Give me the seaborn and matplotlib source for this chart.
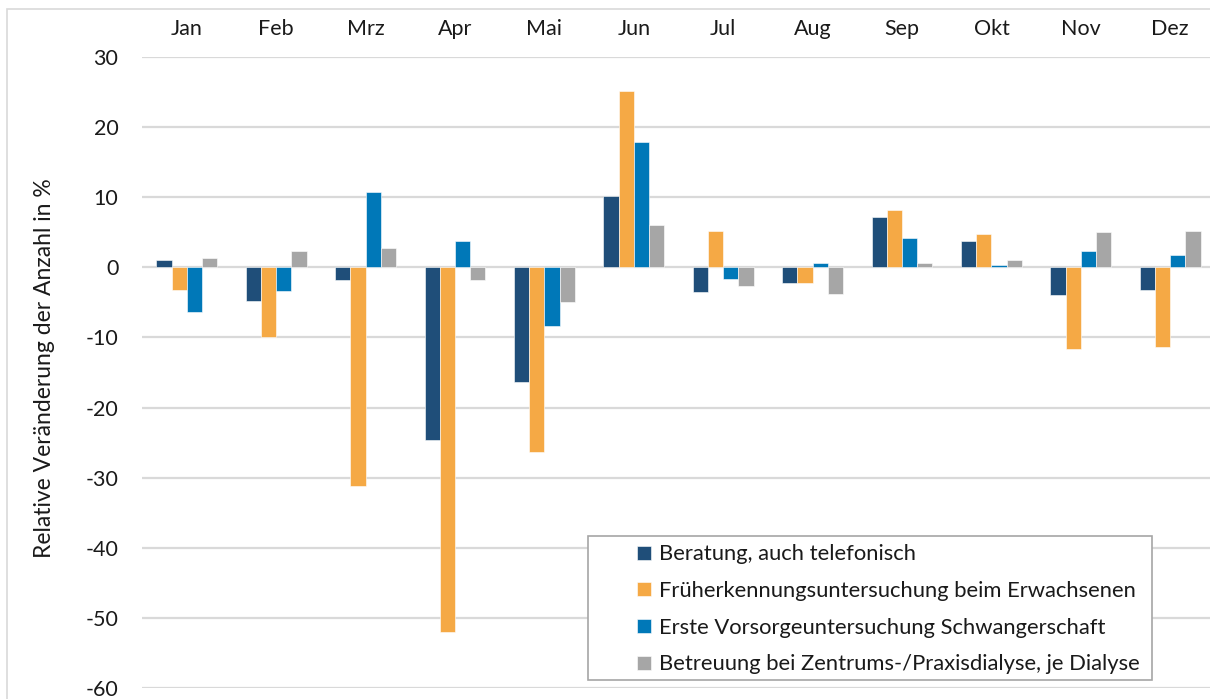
import matplotlib

matplotlib.use("Agg")
import pandas as pd
import seaborn as sns
from matplotlib import pyplot as plt
from matplotlib.patches import Rectangle

months = ["Jan", "Feb", "Mrz", "Apr", "Mai", "Jun", "Jul", "Aug", "Sep", "Okt", "Nov", "Dez"]
series_names = [
    "Beratung, auch telefonisch",
    "Früherkennungsuntersuchung beim Erwachsenen",
    "Erste Vorsorgeuntersuchung Schwangerschaft",
    "Betreuung bei Zentrums-/Praxisdialyse, je Dialyse",
]
beratung = [1.0, -4.8, -1.8, -24.6, -16.4, 10.2, -3.5, -2.2, 7.2, 3.7, -3.9, -3.2]
frueherkennung = [-3.2, -9.9, -31.2, -52.0, -26.3, 25.2, 5.2, -2.2, 8.2, 4.7, -11.7, -11.3]
vorsorge = [-6.4, -3.4, 10.8, 3.8, -8.3, 17.9, -1.7, 0.6, 4.2, 0.4, 2.3, 1.8]
dialyse = [1.4, 2.3, 2.8, -1.8, -4.9, 6.0, -2.7, -3.8, 0.6, 1.1, 5.0, 5.2]
colors = ["#1F4E79", "#F5A945", "#0078B8", "#A6A6A6"]
y_ticks = [30, 20, 10, 0, -10, -20, -30, -40, -50, -60]

frames = []
for name, values in zip(series_names, [beratung, frueherkennung, vorsorge, dialyse]):
    frames.append(pd.DataFrame({"Monat": months, "Wert": values, "Reihe": name}))
df = pd.concat(frames, ignore_index=True)

sns.set_theme(style="white")
plt.rcParams["font.family"] = ["Lato", "DejaVu Sans"]
FS = 15.5
TXT = "#1a1a1a"

W, H = 1210, 699
fig = plt.figure(figsize=(W / 100, H / 100), dpi=100)
# axes area in pixels: left 142, right ~1215, top 57, bottom 688
ax = fig.add_axes([142 / W, 1 - 688 / H, (1215 - 142) / W, (688 - 57) / H])

for y in y_ticks:
    ax.axhline(y, color="#D9D9D9", linewidth=1.6, zorder=0)

sns.barplot(
    data=df,
    x="Monat",
    y="Wert",
    hue="Reihe",
    order=months,
    hue_order=series_names,
    palette=colors,
    width=0.68,
    edgecolor="white",
    linewidth=0.4,
    saturation=1,
    ax=ax,
    zorder=2,
)

ax.set_xlim(-0.5, 11.5)
ax.set_ylim(-60, 30)
ax.set_yticks(y_ticks)
ax.set_yticklabels([str(t) for t in y_ticks], fontsize=FS, color=TXT)
ax.xaxis.tick_top()
ax.tick_params(axis="x", length=0, pad=13, labelsize=FS, labelcolor=TXT)
ax.tick_params(axis="y", length=0, pad=17)
ax.set_xlabel("")
ax.set_ylabel("")
for spine in ax.spines.values():
    spine.set_visible(False)

fig.text(45 / W, 1 - 368 / H, "Relative Veränderung der Anzahl in %", rotation=90,
         ha="center", va="center", fontsize=16.5, color=TXT)

# legend with its own frame (Excel-style wide left inset)
handles, labels = ax.get_legend_handles_labels()
leg = ax.legend(
    handles,
    labels,
    loc="upper left",
    bbox_to_anchor=(633 / W, 1 - 540 / H),
    bbox_transform=fig.transFigure,
    fontsize=15.8,
    frameon=False,
    handlelength=0.6,
    handleheight=0.6,
    handletextpad=0.4,
    labelspacing=0.76,
    borderpad=0.2,
    borderaxespad=0,
)
for t in leg.get_texts():
    t.set_color(TXT)
leg.set_zorder(6)
frame = Rectangle((588 / W, 1 - 680 / H), (1152 - 588) / W, (680 - 536) / H,
                  transform=fig.transFigure, facecolor="white",
                  edgecolor="#A6A6A6", linewidth=1.2, zorder=5, clip_on=False)
ax.add_artist(frame)

# outer chart border (right and bottom are outside the crop)
fig.patches.append(Rectangle((7 / W, -0.05), 1.1, 1 - 9 / H + 0.05, transform=fig.transFigure,
                             fill=False, edgecolor="#D9D9D9", linewidth=1.2))

fig.savefig("out.png", dpi=100, facecolor="white")
